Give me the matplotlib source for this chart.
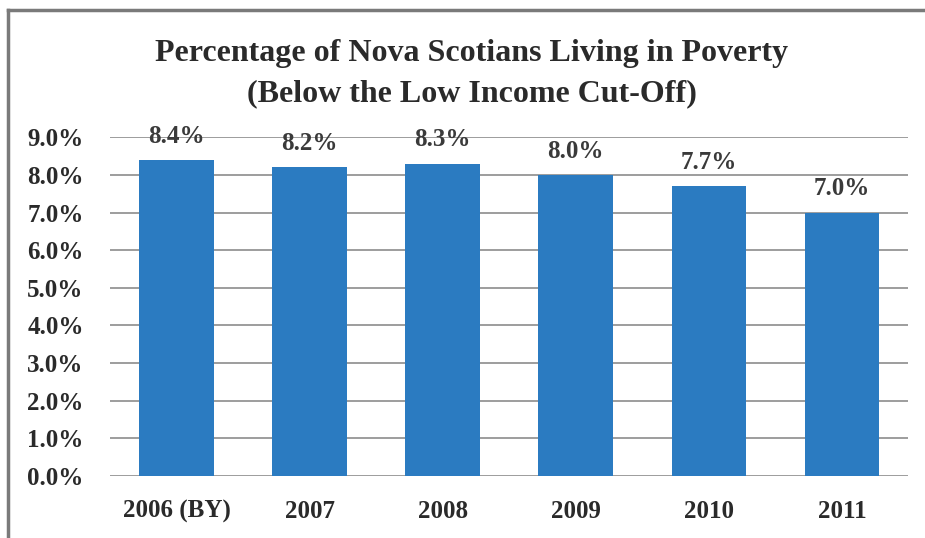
import matplotlib.pyplot as plt
from matplotlib.lines import Line2D
from matplotlib.ticker import PercentFormatter

years = ['2006 (BY)', '2007', '2008', '2009', '2010', '2011']
poverty_rate = [8.4, 8.2, 8.3, 8.0, 7.7, 7.0]
y_ticks = [0, 1, 2, 3, 4, 5, 6, 7, 8, 9]

plt.rcParams['font.family'] = ['Liberation Serif', 'DejaVu Serif']

fig = plt.figure(figsize=(9.25, 5.38), dpi=100)
ax = fig.add_axes([0.119, 0.115, 0.863, 0.630])

x = range(len(years))
ax.bar(x, poverty_rate, width=0.56, color='#2B7BC1', zorder=3)

# value labels above each bar
for xi, v in zip(x, poverty_rate):
    ax.annotate(f'{v:.1f}%', (xi, v), xytext=(0, 17), textcoords='offset points',
                ha='center', va='center', fontsize=18, fontweight='bold',
                color='#3a3a3a', zorder=4)

ax.set_xlim(-0.5, len(years) - 0.5)
ax.set_ylim(0, 9)
ax.set_yticks(y_ticks)
ax.yaxis.set_major_formatter(PercentFormatter(decimals=1))
ax.set_xticks(list(x))
ax.set_xticklabels(years)
ax.tick_params(axis='both', length=0, labelsize=18, colors='#2a2a2a')
ax.tick_params(axis='x', pad=17)
ax.tick_params(axis='y', pad=19)
for lbl in ax.get_xticklabels() + ax.get_yticklabels():
    lbl.set_fontweight('bold')

ax.grid(axis='y', color='#8c8c8c', linewidth=1.2, zorder=0)
for s in ax.spines.values():
    s.set_visible(False)

fig.text(0.51, 0.900, 'Percentage of Nova Scotians Living in Poverty',
         ha='center', va='center', fontsize=23, fontweight='bold', color='#2a2a2a')
fig.text(0.51, 0.826, '(Below the Low Income Cut-Off)',
         ha='center', va='center', fontsize=23, fontweight='bold', color='#2a2a2a')

# outer frame (top and left edges visible in the original)
fig.add_artist(Line2D([0.009, 1.0], [0.981, 0.981], color='#7a7a7a', linewidth=2.5))
fig.add_artist(Line2D([0.009, 0.009], [0.0, 0.981], color='#7a7a7a', linewidth=2.5))

fig.savefig('out.png', dpi=100)
